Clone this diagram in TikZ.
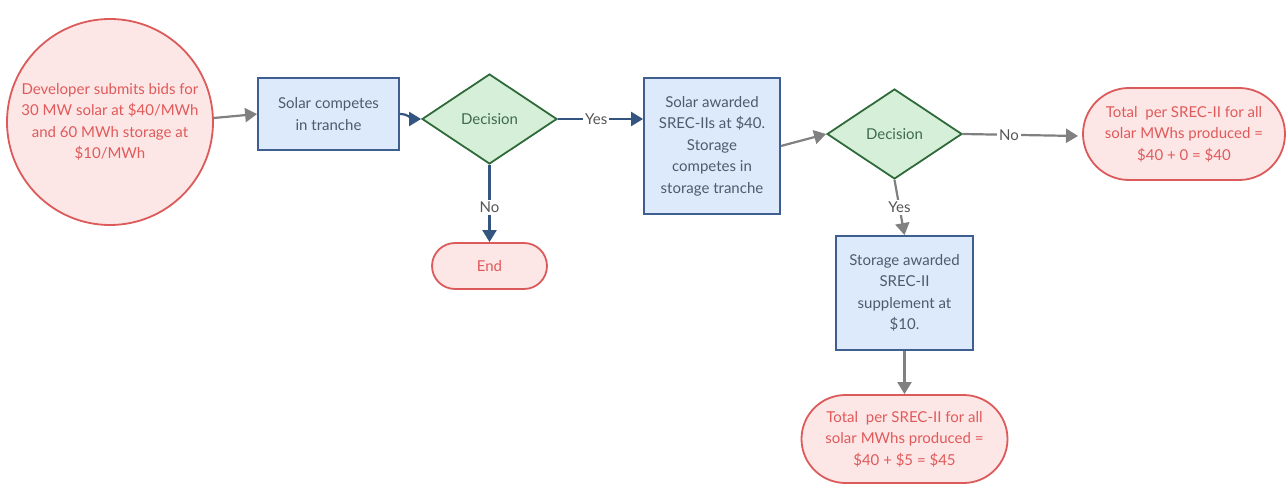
\documentclass[tikz,border=0pt]{standalone}
\usepackage{fontspec}
\setmainfont{Lato}
\usetikzlibrary{shapes.geometric,shapes.misc,arrows.meta}
\definecolor{rfill}{HTML}{FDE6E6}
\definecolor{rline}{HTML}{DC5A5A}
\definecolor{rtext}{HTML}{E05A5A}
\definecolor{bfill}{HTML}{DCEAFB}
\definecolor{bline}{HTML}{3E5F8F}
\definecolor{btext}{HTML}{4D5B70}
\definecolor{gfill}{HTML}{D6EFD8}
\definecolor{gline}{HTML}{2F6B3A}
\definecolor{gtext}{HTML}{3E6B4A}
\definecolor{garrow}{HTML}{808080}
\definecolor{barrow}{HTML}{34557F}
\definecolor{ltext}{HTML}{555555}
\tikzset{
  txt/.style={font=\fontsize{15}{21.5}\selectfont, align=center},
  startc/.style={txt, circle, draw=rline, fill=rfill, text=rtext, line width=1.8pt, minimum size=206pt, inner sep=0pt},
  procbox/.style={txt, rectangle, draw=bline, fill=bfill, text=btext, line width=1.8pt, inner sep=0pt},
  decision/.style={txt, diamond, draw=gline, fill=gfill, text=gtext, line width=1.8pt, minimum width=135pt, minimum height=90pt, inner sep=0pt, aspect=1.5},
  term/.style={txt, rounded rectangle, draw=rline, fill=rfill, text=rtext, line width=1.8pt, inner sep=0pt},
  garr/.style={draw=garrow, line width=2.2pt, -{Triangle[width=14pt,length=12pt]}},
  barr/.style={draw=barrow, line width=2.2pt, -{Triangle[width=14pt,length=12pt]}},
  lbl/.style={txt, fill=white, text=ltext, inner sep=2pt}
}
\begin{document}
\begin{tikzpicture}[x=1pt,y=-1pt]
\useasboundingbox (0,0) rectangle (1286,484);
\node[startc] (start) at (110,122) {Developer submits bids for\\30 MW solar at \$40/MWh\\and 60 MWh storage at\\\$10/MWh};
\node[procbox, minimum width=141pt, minimum height=72pt] (b1) at (328.5,114) {Solar competes\\in tranche};
\node[decision] (d1) at (489.5,119) {Decision};
\node[procbox, minimum width=136pt, minimum height=136pt] (b2) at (712,146) {Solar awarded\\SREC-IIs at \$40.\\Storage\\competes in\\storage tranche};
\node[term, minimum width=115pt, minimum height=46pt] (end) at (489.5,266) {End};
\node[decision] (d2) at (894.5,134) {Decision};
\node[term, minimum width=202pt, minimum height=92pt] (t1) at (1184,134) {Total\ \ per SREC-II for all\\solar MWhs produced =\\\$40 + 0 = \$40};
\node[procbox, minimum width=137pt, minimum height=114pt] (b3) at (904.5,293) {Storage awarded\\SREC-II\\supplement at\\\$10.};
\node[term, minimum width=206pt, minimum height=88pt] (t2) at (904.5,439) {Total\ \ per SREC-II for all\\solar MWhs produced =\\\$40 + \$5 = \$45};
\coordinate (t1in) at (1078,136);
\draw[garr] (start.east |- 0,118) -- (b1.west);
\draw[barr] (b1.east) to[out=0,in=180] (d1.west);
\draw[barr] (d1.east) -- node[lbl, pos=0.45] {Yes} (b2.west |- d1.east);
\draw[barr] (d1.south) -- node[lbl, pos=0.55] {No} (end.north);
\draw[garr] (b2.east) -- (d2.west);
\draw[garr] (d2.east) -- node[lbl, pos=0.4] {No} (t1in);
\draw[garr] (d2.south) -- node[lbl, pos=0.5] {Yes} (b3.north);
\draw[garr] (b3.south) -- (t2.north);
\end{tikzpicture}
\end{document}
